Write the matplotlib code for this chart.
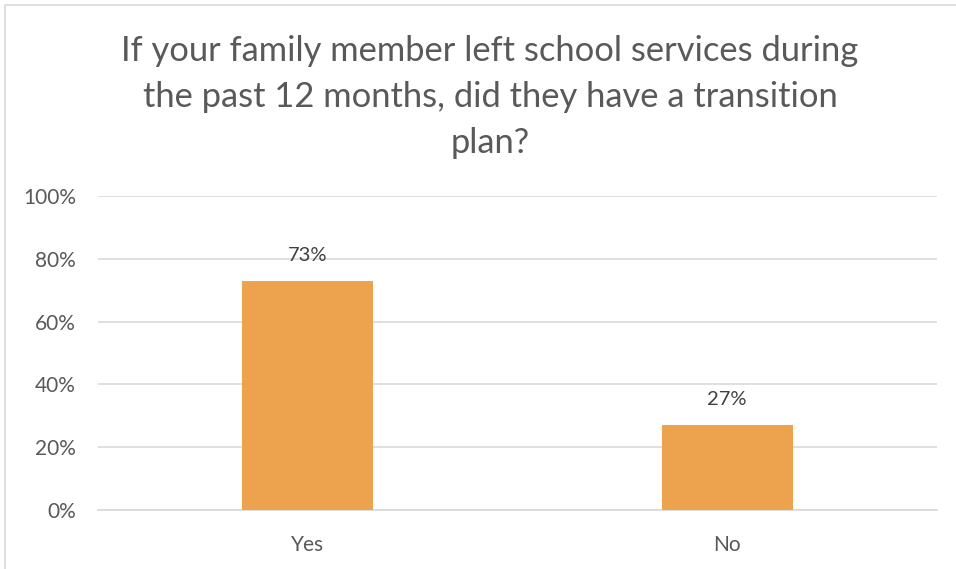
import matplotlib
matplotlib.use("Agg")
import matplotlib.pyplot as plt
from matplotlib.patches import Rectangle
from matplotlib.ticker import FuncFormatter

# Survey result
categories = ["Yes", "No"]
values = [73, 27]
title = ("If your family member left school services during\n"
         "the past 12 months, did they have a transition\nplan?")

plt.rcParams['font.family'] = ['Lato', 'DejaVu Sans']
text_gray = '#595959'
bar_color = '#EDA24D'
grid_gray = '#D9D9D9'

fig = plt.figure(figsize=(9.56, 5.69), dpi=100)
ax = fig.add_axes([0.1025, 0.1037, 0.8775, 0.5518])

# outer chart border (only left and top visible in reference)
fig.patches.append(Rectangle((5 / 956, -0.1), 1.2, 1.1 - 5 / 569,
                             transform=fig.transFigure, fill=False,
                             edgecolor='#D9D9D9', linewidth=1.2))

x = range(len(categories))
bars = ax.bar(x, values, width=0.312, color=bar_color, zorder=3)
for b, v in zip(bars, values):
    ax.text(b.get_x() + b.get_width() / 2, v + 5.5, f"{v}%",
            ha='center', va='bottom', fontsize=14.5, color='#404040')

ax.set_xlim(-0.5, 1.5)
ax.set_ylim(0, 100)
ax.set_yticks(range(0, 101, 20))
ax.yaxis.set_major_formatter(FuncFormatter(lambda v, p: f"{int(v)}%"))
ax.set_xticks(list(x))
ax.set_xticklabels(categories)
ax.tick_params(length=0, labelsize=15, colors=text_gray)
ax.tick_params(axis='y', pad=16)
ax.tick_params(axis='x', pad=18)
ax.grid(axis='y', color=grid_gray, linewidth=1.2, zorder=0)
for s in ['top', 'right', 'left']:
    ax.spines[s].set_visible(False)
ax.spines['bottom'].set_color(grid_gray)
ax.spines['bottom'].set_linewidth(1.2)

fig.text(490 / 956, 1 - 97 / 569, title, ha='center', va='center',
         fontsize=24.8, color=text_gray, linespacing=1.55)

fig.savefig("out.png", dpi=100)
